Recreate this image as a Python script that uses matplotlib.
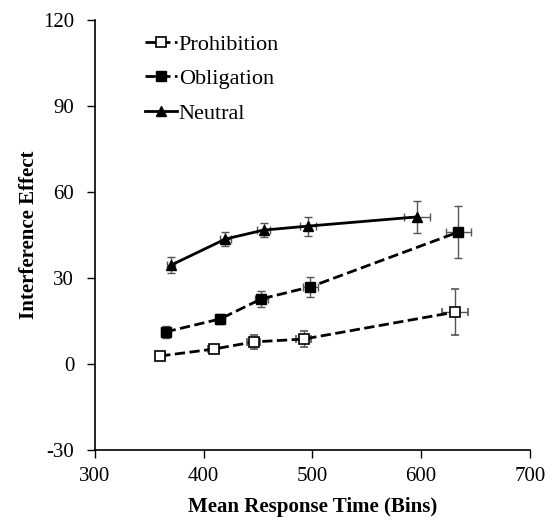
import matplotlib
matplotlib.use('Agg')
import matplotlib.pyplot as plt

plt.rcParams['font.family'] = ['Liberation Serif', 'DejaVu Serif']
plt.rcParams['axes.unicode_minus'] = False

## data: mean RT per bin, interference effect and error bars
prohib_x = [360, 409, 446, 492, 631]
prohib_y = [2.8, 5.2, 7.7, 8.7, 18.1]
prohib_xerr = [4, 5, 6, 7, 12]
prohib_yerr = [1.0, 1.5, 2.3, 2.7, 8.0]

oblig_x = [365, 415, 453, 498, 634]
oblig_y = [11.2, 15.7, 22.7, 26.9, 46.0]
oblig_xerr = [4, 5, 6, 7, 11.5]
oblig_yerr = [2.0, 1.8, 2.8, 3.4, 9.2]

neutral_x = [370, 420, 455, 496, 596]
neutral_y = [34.5, 43.6, 46.7, 48.1, 51.3]
neutral_xerr = [4, 5, 6, 7, 12]
neutral_yerr = [2.8, 2.3, 2.5, 3.3, 5.7]

x_ticks = [300, 400, 500, 600, 700]
y_ticks = [-30, 0, 30, 60, 90, 120]

fig = plt.figure(figsize=(5.54, 5.2), dpi=100)
ax = fig.add_axes([0.1715, 0.1346, 0.785, 0.827])

err_kw = dict(ecolor='#555555', elinewidth=1, capsize=3, capthick=1)
ax.errorbar(prohib_x, prohib_y, xerr=prohib_xerr, yerr=prohib_yerr, color='black',
            linestyle='--', linewidth=2, marker='s', markersize=7, markerfacecolor='white',
            markeredgecolor='black', markeredgewidth=1.2, label='Prohibition', **err_kw)
ax.errorbar(oblig_x, oblig_y, xerr=oblig_xerr, yerr=oblig_yerr, color='black',
            linestyle='--', linewidth=2, marker='s', markersize=7, markerfacecolor='black',
            label='Obligation', **err_kw)
ax.errorbar(neutral_x, neutral_y, xerr=neutral_xerr, yerr=neutral_yerr, color='black',
            linestyle='-', linewidth=2, marker='^', markersize=7.5, markerfacecolor='black',
            label='Neutral', **err_kw)

ax.set_xlim(300, 700)
ax.set_ylim(-30, 120)
ax.set_xticks(x_ticks)
ax.set_yticks(y_ticks)
ax.tick_params(labelsize=15, direction='out', length=6, width=1)
ax.tick_params(axis='y', pad=9)
ax.tick_params(axis='x', pad=6)
ax.spines['top'].set_visible(False)
ax.spines['right'].set_visible(False)
ax.spines['left'].set_linewidth(1.2)
ax.spines['bottom'].set_linewidth(1.2)

ax.set_xlabel('Mean Response Time (Bins)', fontsize=15, fontweight='bold', labelpad=8)
ax.set_ylabel('Interference Effect', fontsize=15, fontweight='bold', labelpad=3)

# legend without error bars in handles
handles, labels = ax.get_legend_handles_labels()
handles = [h[0] for h in handles]
ax.legend(handles, labels, loc='upper left', bbox_to_anchor=(0.07, 1.013), frameon=False,
          fontsize=16, handlelength=1.4, handletextpad=0.1, labelspacing=0.62)

fig.savefig('out.png', dpi=100)
